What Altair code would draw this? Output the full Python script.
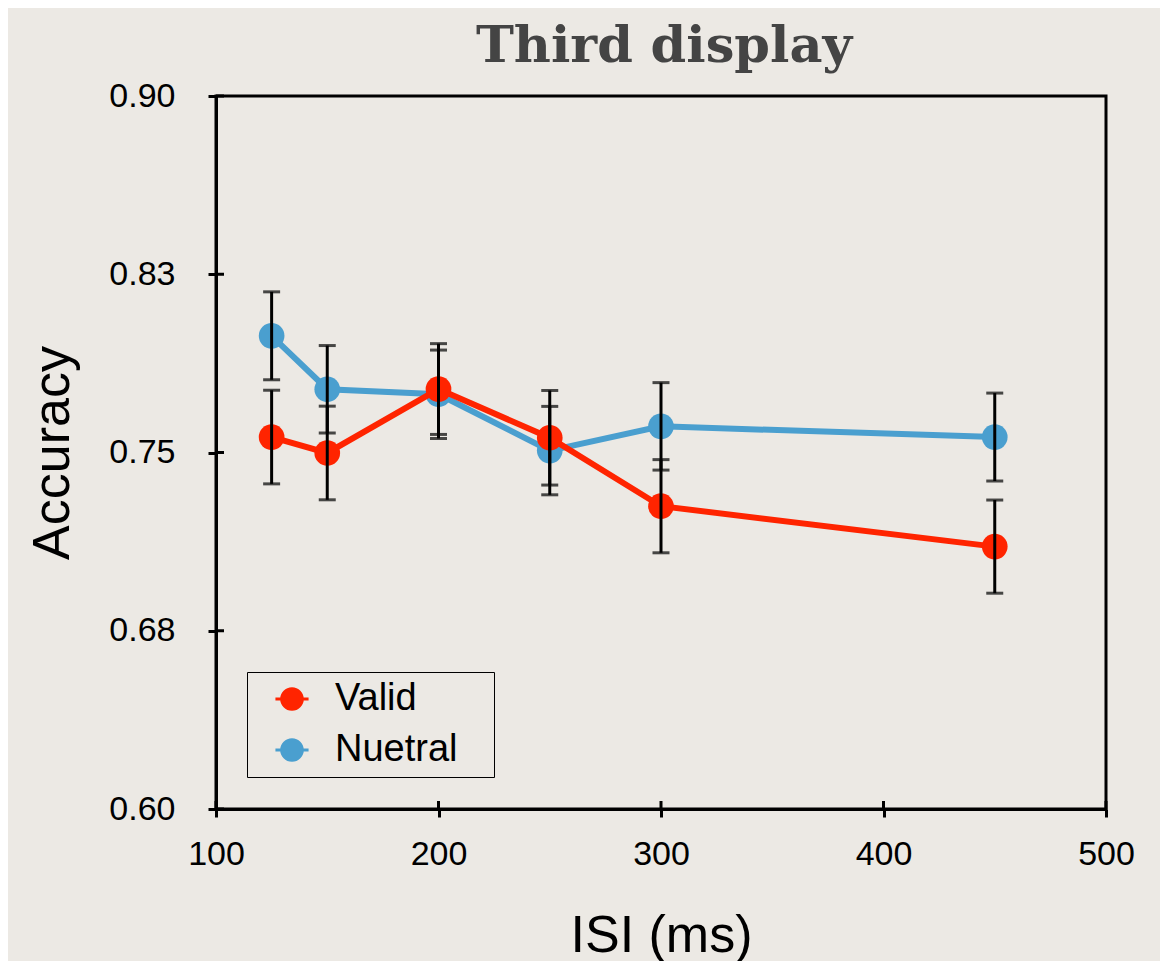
import altair as alt
import pandas as pd

isi = [125, 150, 200, 250, 300, 450]
valid = [0.7565, 0.7498, 0.7767, 0.7562, 0.7274, 0.7104]
valid_err = [0.0197, 0.0197, 0.0191, 0.0199, 0.0196, 0.0196]
neutral = [0.7991, 0.7766, 0.7745, 0.7508, 0.7610, 0.7565]
neutral_err = [0.0185, 0.0184, 0.0186, 0.0186, 0.0184, 0.0185]
series_names = ["Valid", "Nuetral"]
series_colors = ["#ff2400", "#4a9fcf"]
x_ticks = [100, 200, 300, 400, 500]
y_ticks = [0.60, 0.675, 0.75, 0.825, 0.90]

rows = []
for name, vals, errs in [("Nuetral", neutral, neutral_err), ("Valid", valid, valid_err)]:
    for x, v, e in zip(isi, vals, errs):
        rows.append({"ISI": x, "Accuracy": v, "lo": v - e, "hi": v + e, "Condition": name})
df = pd.DataFrame(rows)

xscale = alt.Scale(domain=[100, 500], nice=False, zero=False)
yscale = alt.Scale(domain=[0.60, 0.90], nice=False, zero=False)
cscale = alt.Scale(domain=series_names, range=series_colors)

X = alt.X("ISI:Q", scale=xscale, axis=alt.Axis(
    values=x_ticks, title="ISI (ms)", grid=False, tickSize=8, tickWidth=3,
    domainWidth=3, domainColor="black", tickColor="black", labelFlush=False,
    labelFont="Liberation Sans", labelFontSize=34, labelColor="black", labelPadding=20,
    titleFont="Liberation Sans", titleFontSize=52, titleFontWeight="normal", titleColor="black",
    titleX=445, titleY=142, titleBaseline="alphabetic", titleAnchor="middle"))
Y = alt.Y("Accuracy:Q", scale=yscale, axis=alt.Axis(
    values=y_ticks, title="Accuracy", grid=False, tickSize=8, tickWidth=3,
    domainWidth=3, domainColor="black", tickColor="black", labelFlush=False,
    labelExpr="format(datum.value + 1e-9, '.2f')",
    labelFont="Liberation Sans", labelFontSize=34, labelColor="black", labelPadding=33,
    titleFont="Liberation Sans", titleFontSize=52, titleFontWeight="normal", titleColor="black",
    titleX=-148, titleY=356.5, titleBaseline="alphabetic", titleAngle=-90))

sym_path = ("M -1 0 A 1 1 0 1 1 1 0 A 1 1 0 1 1 -1 0 Z "
            "M -1.4 -0.13 L 1.4 -0.13 L 1.4 0.13 L -1.4 0.13 Z")

C = alt.Color("Condition:N", scale=cscale, legend=alt.Legend(
    title=None, orient="none", legendX=31, legendY=576,
    symbolType=sym_path, symbolSize=560, symbolStrokeWidth=0, symbolOpacity=1,
    labelFont="Liberation Sans", labelFontSize=38, labelColor="black", labelLimit=400,
    labelExpr="datum.label + '\u2800'",
    padding=8, rowPadding=13, labelOffset=24, symbolOffset=18,
    strokeColor="black", fillColor="transparent"))

layers = []
for name in ["Nuetral", "Valid"]:
    sub = df[df["Condition"] == name]
    base = alt.Chart(sub)
    line = base.mark_line(strokeWidth=6).encode(x=X, y=Y, color=C)
    pts = base.mark_point(filled=True, size=660, opacity=1).encode(x=X, y=Y, color=C)
    layers += [line, pts]

err = alt.Chart(df)
bars = err.mark_rule(color="black", strokeWidth=3).encode(
    x=X, y=alt.Y("lo:Q", scale=yscale), y2="hi:Q")
cap_lo = err.mark_tick(color="black", thickness=3, size=17, orient="horizontal").encode(
    x=X, y=alt.Y("lo:Q", scale=yscale))
cap_hi = err.mark_tick(color="black", thickness=3, size=17, orient="horizontal").encode(
    x=X, y=alt.Y("hi:Q", scale=yscale))

xt = alt.Chart(pd.DataFrame({"ISI": x_ticks})).mark_rule(color="black", strokeWidth=3).encode(
    x=X, y=alt.value(705), y2=alt.value(713))
yt = alt.Chart(pd.DataFrame({"Accuracy": y_ticks})).mark_rule(color="black", strokeWidth=3).encode(
    y=Y, x=alt.value(0), x2=alt.value(8))

chart = alt.layer(*layers, bars, cap_lo, cap_hi, xt, yt).properties(
    width=890, height=713,
    title=alt.TitleParams("Third display", font="DejaVu Serif", fontSize=51, fontWeight="bold",
                          color="#444444", anchor="middle", baseline="alphabetic", offset=31,
                          dx=3, dy=65),
    autosize=alt.AutoSizeParams(type="none"),
    padding={"left": 208, "top": 88, "right": 54, "bottom": 152},
).configure(background="#ece9e4").configure_view(stroke="black", strokeWidth=3)

chart.save("out.html", embed_options={"renderer": "svg", "actions": False})
